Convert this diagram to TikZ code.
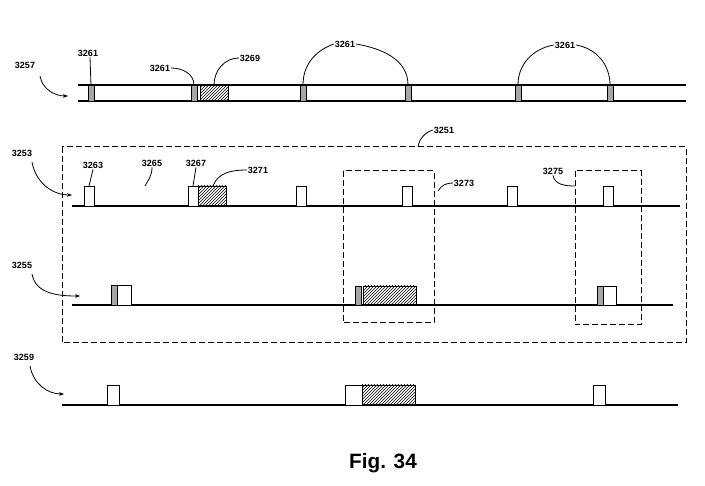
\documentclass[tikz,border=0pt]{standalone}
\usepackage{fontspec}
\setmainfont{Liberation Sans}
\usetikzlibrary{patterns,arrows.meta}
\begin{document}
\begin{tikzpicture}[x=1pt, y=-1pt,
          line1/.style ={line width = 1.1},
          lead/.style ={line width = 0.8},
          arr/.style ={line width = 0.8, -{Stealth[length=5pt]}},
          box/.style ={line width = 1, dashed, dash pattern=on 6pt off 3pt},
          gry/.style ={draw, line width=0.8, fill=black!35},
          pulse/.style ={draw, line width=0.8, fill=white},
          hat/.style ={draw, line width=0.8, pattern=north east lines},
          lbl/.style ={font=\bfseries\small, inner sep=1pt}
          ]
\useasboundingbox (0,0) rectangle (705,486);

% row 3257
\draw[line1] (78,85) -- (686,85);
\draw[line1] (78,101) -- (686,101);
\foreach \x in {88,191,300,405,515,607}{
\draw[gry] (\x,85) rectangle (\x+6,101);
}
\draw[hat] (200,85) rectangle (228,101);
\node[lbl] (l3257) at (25,65) {3257};
\coordinate (a3257) at (68,96);
\draw[arr] (40,76) to[out=-80,in=180] (a3257);
\node[lbl] (l3261a) at (88,53) {3261};
\draw[lead] (l3261a.south) ++(2,0) -- (91,85);
\node[lbl] (l3261b) at (160,68) {3261};
\draw[lead] (l3261b.east) to[out=0,in=90] (194,85);
\node[lbl] (l3269) at (250,58) {3269};
\draw[lead] (l3269.west) to[out=180,in=90] (214,85);
\node[lbl] (l3261c) at (345,44) {3261};
\draw[lead] (l3261c.west) to[out=200,in=90] (303,85);
\draw[lead] (l3261c.east) to[out=-10,in=90] (408,85);
\node[lbl] (l3261d) at (565,45) {3261};
\draw[lead] (l3261d.west) to[out=190,in=90] (518,85);
\draw[lead] (l3261d.east) to[out=-10,in=90] (610,85);

% box 3251
\draw[box] (62,147) rectangle (686,343);
\node[lbl] (l3251) at (444,130) {3251};
\draw[lead] (l3251.west) to[out=200,in=80] (418,147);

% row 3253
\draw[line1] (72,206) -- (680,206);
\foreach \x in {84,188,296,402,507,603}{
\draw[pulse] (\x,186) rectangle (\x+10,206);
}
\draw[hat] (198,186) rectangle (226,206);
\node[lbl] (l3253) at (22,153) {3253};
\draw[arr] (32,162) to[out=-80,in=180] (72,195);
\node[lbl] (l3263) at (93,165) {3263};
\draw[lead] (l3263.south) -- (89,186);
\node[lbl] (l3265) at (152,163) {3265};
\draw[lead] (l3265.south) to[out=-90,in=60] (145,186);
\node[lbl] (l3267) at (196,163) {3267};
\draw[lead] (l3267.south) -- (193,186);
\node[lbl] (l3271) at (258,170) {3271};
\draw[lead] (l3271.west) to[out=180,in=70] (213,186);
\draw[box] (343,171) rectangle (434,323);
\node[lbl] (l3273) at (464,183) {3273};
\draw[lead] (l3273.west) to[out=180,in=60] (438,191);
\draw[box] (575,171) rectangle (641,325);
\node[lbl] (l3275) at (553,171) {3275};
\draw[lead] (l3275.south) to[out=-80,in=180] (575,186);

% row 3255
\draw[line1] (72,305) -- (673,305);
\draw[pulse] (111,285) rectangle (131,305);
\draw[gry] (111,285) rectangle (117,305);
\draw[gry] (355,286) rectangle (361,305);
\draw[hat] (363,286) rectangle (416,305);
\draw[pulse] (597,286) rectangle (616,305);
\draw[gry] (597,286) rectangle (603,305);
\node[lbl] (l3255) at (22,265) {3255};
\draw[arr] (32,274) to[out=-80,in=180] (80,296);

% row 3259
\draw[line1] (62,405) -- (678,405);
\draw[pulse] (107,385) rectangle (119,405);
\draw[pulse] (345,385) rectangle (362,405);
\draw[hat] (362,385) rectangle (415,405);
\draw[pulse] (593,385) rectangle (605,405);
\node[lbl] (l3259) at (24,357) {3259};
\draw[arr] (30,366) to[out=-80,in=180] (64,394);

\node[font=\bfseries\huge] (fig) at (383,463) {Fig. 34};
\end{tikzpicture}
\end{document}
